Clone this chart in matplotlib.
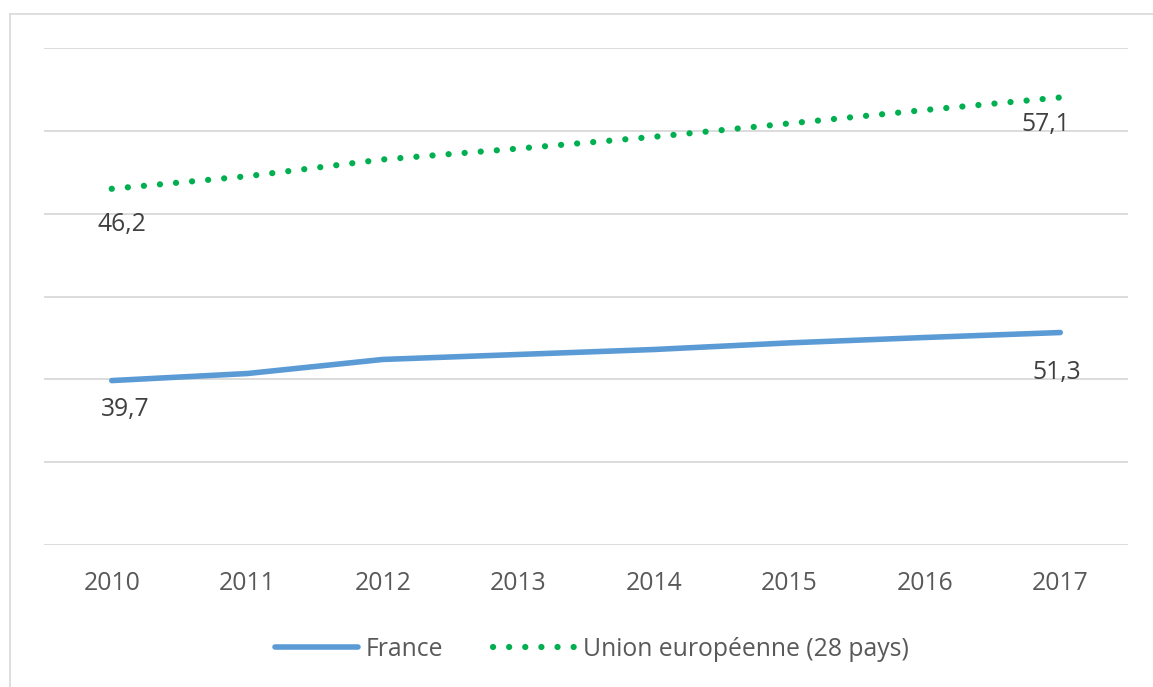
import matplotlib
matplotlib.use("Agg")
import matplotlib.pyplot as plt
from matplotlib.lines import Line2D

# ---- data ----
years = ["2010", "2011", "2012", "2013", "2014", "2015", "2016", "2017"]
france = [39.7, 41.4, 44.8, 46.0, 47.2, 48.8, 50.1, 51.3]
ue28 = [46.2, 47.7, 49.7, 51.0, 52.4, 54.0, 55.6, 57.1]
series_names = ["France", "Union européenne (28 pays)"]

BLUE = "#5B9BD5"
GREEN = "#00B050"
GRID = "#d9d9d9"
TXT = "#595959"
FONT = "Open Sans"
FS = 17.8

W, H = 1153, 687
fig = plt.figure(figsize=(W / 100, H / 100), dpi=100)
fig.patch.set_facecolor("white")

# outer chart border (top and left visible)
fig.add_artist(Line2D([9.5 / W, 1.0], [1 - 14 / H, 1 - 14 / H], color=GRID, lw=1.2))
fig.add_artist(Line2D([9.5 / W, 9.5 / W], [0, 1 - 14 / H], color=GRID, lw=1.2))

ax = fig.add_axes([44 / W, 1 - 545 / H, (1128 - 44) / W, (545 - 48) / H])
x = list(range(len(years)))
ax.set_xlim(-0.5, len(years) - 0.5)
ax.set_ylim(0, 120)
ax.set_yticks(range(0, 121, 20))
ax.yaxis.grid(True, color=GRID, lw=1.3)
ax.set_axisbelow(True)
ax.set_xticks(x)
ax.set_xticklabels(years, fontsize=FS, color=TXT, family=FONT)

ax2 = ax.twinx()
ax2.set_ylim(3.7, 63.0)
for a in (ax, ax2):
    a.tick_params(left=False, labelleft=False, right=False, labelright=False,
                  bottom=False, pad=15)
    for s in a.spines.values():
        s.set_visible(False)

lf, = ax.plot(x, france, color=BLUE, lw=4.0, solid_capstyle="round", solid_joinstyle="round")
le, = ax2.plot(x, ue28, color=GREEN, lw=4.5, linestyle=(0, (0.01, 2.57)), dash_capstyle="round")

lab_kw = dict(textcoords="offset pixels", ha="center", va="center", fontsize=FS, color="#404040", family=FONT)
ax.annotate("39,7", (x[0], france[0]), xytext=(13, -29), **lab_kw)
ax.annotate("51,3", (x[-1], france[-1]), xytext=(-4, -40), **lab_kw)
ax2.annotate("46,2", (x[0], ue28[0]), xytext=(10, -36), **lab_kw)
ax2.annotate("57,1", (x[-1], ue28[-1]), xytext=(-14, -27), **lab_kw)

h1 = Line2D([], [], color=BLUE, lw=4.0, solid_capstyle="round")
h2 = Line2D([], [], color=GREEN, lw=4.5, linestyle=(0, (0.01, 2.57)), dash_capstyle="round")
leg = fig.legend([h1, h2], series_names, loc="center", bbox_to_anchor=(592 / W, 1 - 649 / H),
                 ncol=2, frameon=False, handlelength=3.35, handletextpad=0.3, columnspacing=2.0,
                 prop={"family": FONT, "size": FS})
for t in leg.get_texts():
    t.set_color(TXT)

fig.savefig("out.png", dpi=100)
